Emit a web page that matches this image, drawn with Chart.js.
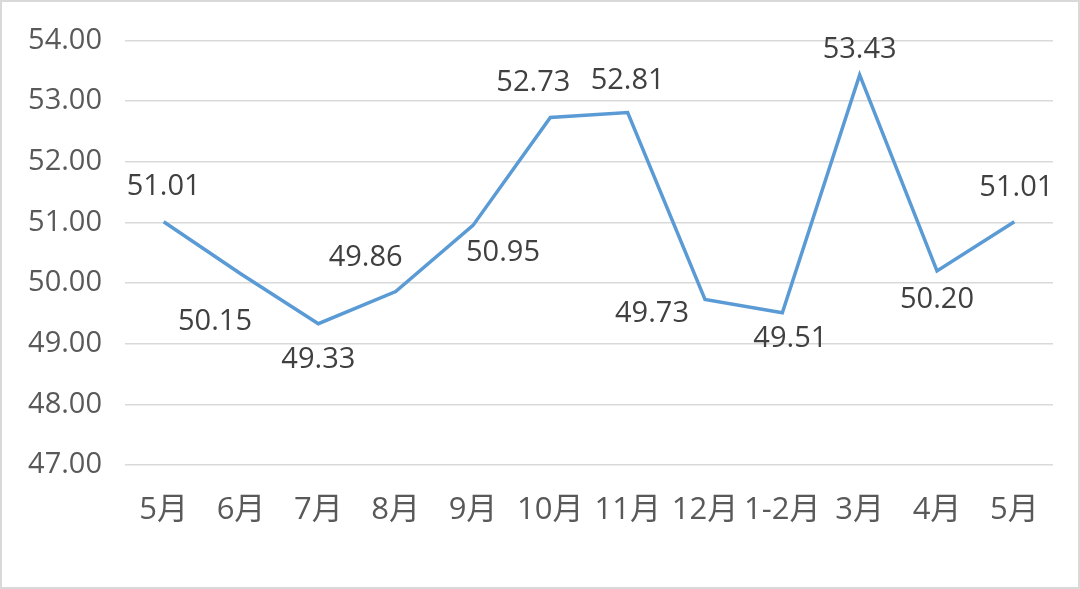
<!DOCTYPE html>
<html>
<head>
<meta charset="utf-8">
<script src="https://cdn.jsdelivr.net/npm/chart.js@4/dist/chart.umd.min.js"></script>
<style>
  html, body { margin: 0; padding: 0; background: #fff; }
  #wrap { width: 1080px; height: 589px; position: relative; }
</style>
</head>
<body>
<div id="wrap"><canvas id="pmiChart" width="1080" height="589"></canvas></div>
<script>
// ===== DATA =====
const months = ["5月", "6月", "7月", "8月", "9月", "10月", "11月", "12月", "1-2月", "3月", "4月", "5月"];
const pmiValues = [51.01, 50.15, 49.33, 49.86, 50.95, 52.73, 52.81, 49.73, 49.51, 53.43, 50.20, 51.01];
const yMin = 47;
const yMax = 54;

const FONT = "'Open Sans', 'Noto Sans CJK SC', sans-serif";
const TEXT = "#595959";

// label placement around each point, [dx, dy] in px
const labelOffsets = [[0, -35], [-26, 48], [0, 36], [-30, -34], [30, 27], [-17, -35],
                      [0, -32], [-53, 14], [8, 26], [0, -25], [0, 29], [2, -34]];

// draws the value labels next to each point
const valueLabels = {
    id: "valueLabels",
    afterDatasetsDraw(chart) {
        const ctx = chart.ctx;
        const meta = chart.getDatasetMeta(0);
        ctx.save();
        ctx.font = "29px " + FONT;
        ctx.fillStyle = "#404040";
        ctx.textAlign = "center";
        ctx.textBaseline = "middle";
        meta.data.forEach(function (pt, i) {
            const off = labelOffsets[i];
            ctx.fillText(pmiValues[i].toFixed(2), pt.x + off[0], pt.y + off[1]);
        });
        ctx.restore();
    }
};

// outer frame
const frame = {
    id: "frame",
    afterDraw(chart) {
        const ctx = chart.ctx;
        ctx.save();
        ctx.strokeStyle = "#d9d9d9";
        ctx.lineWidth = 2;
        ctx.strokeRect(1, 1, chart.width - 2, chart.height - 2);
        ctx.restore();
    }
};

new Chart(document.getElementById("pmiChart"), {
    type: "line",
    data: {
        labels: months,
        datasets: [{
            data: pmiValues,
            borderColor: "#5b9bd5",
            borderWidth: 3.5,
            pointRadius: 0,
            tension: 0,
            fill: false
        }]
    },
    options: {
        responsive: false,
        animation: false,
        layout: { padding: { top: 40, right: 27, left: 0, bottom: 0 } },
        plugins: {
            legend: { display: false },
            tooltip: { enabled: false }
        },
        scales: {
            x: {
                offset: true,
                grid: { display: false },
                border: { display: false },
                ticks: {
                    color: TEXT,
                    font: { family: FONT, size: 31 },
                    padding: 19,
                    maxRotation: 0,
                    autoSkip: false
                },
                afterFit(scale) { scale.height = 124; }
            },
            y: {
                min: yMin,
                max: yMax,
                grid: { color: "#d9d9d9", lineWidth: 1.5, drawTicks: false },
                border: { display: false },
                ticks: {
                    stepSize: 1,
                    color: TEXT,
                    font: { family: FONT, size: 29 },
                    padding: 23,
                    callback: function (v) { return v.toFixed(2); }
                },
                afterFit(scale) { scale.width = 125; }
            }
        }
    },
    plugins: [valueLabels, frame]
});
</script>
</body>
</html>
